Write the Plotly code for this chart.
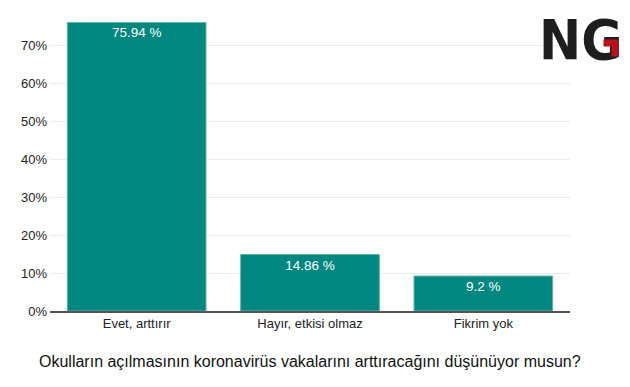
import plotly.graph_objects as go

categories = ["Evet, arttırır", "Hayır, etkisi olmaz", "Fikrim yok"]
values = [75.94, 14.86, 9.2]
labels = ["75.94 %", "14.86 %", "9.2 %"]
tick_vals = [0, 10, 20, 30, 40, 50, 60, 70]
tick_text = ["0%", "10%", "20%", "30%", "40%", "50%", "60%", "70%"]
title_text = "Okulların açılmasının koronavirüs vakalarını arttıracağını düşünüyor musun?"

fig = go.Figure()
fig.add_trace(go.Bar(
    x=categories, y=values, text=labels,
    textposition="inside", insidetextanchor="end",
    textfont=dict(color="white", size=13.5, family="Arial"),
    marker=dict(color="#00877f", line=dict(color="#5fb3ac", width=1)),
    hoverinfo="skip",
))
# page body has an 8px margin: margins compensate so the plot lands where the reference has it
fig.update_layout(
    width=630, height=387,
    margin=dict(l=42, r=68, t=7, b=84),
    paper_bgcolor="white", plot_bgcolor="white",
    bargap=0.2, showlegend=False,
    font=dict(family="Arial", size=13, color="#222"),
    xaxis=dict(showgrid=False, showline=True, linecolor="#555", linewidth=1.5,
               ticks="", tickfont=dict(size=13, color="#222"), automargin=False),
    yaxis=dict(range=[0, 77.9], tickvals=tick_vals, ticktext=tick_text,
               showgrid=True, gridcolor="#ebebeb", zeroline=False,
               ticks="", tickfont=dict(size=13, color="#222"), automargin=False,
               ticklabelstandoff=2),
    uniformtext=dict(mode="show", minsize=12),
)
fig.add_annotation(text=title_text, xref="paper", yref="paper", x=0.5, y=-0.172,
                   showarrow=False, font=dict(size=16, color="#111", family="Arial"),
                   yanchor="middle")
# Logo
fig.add_annotation(text="<b>NG</b>", xref="paper", yref="paper", x=1.022, y=(311 - 40) / 296,
                   xanchor="center", yanchor="middle", showarrow=False,
                   font=dict(size=56, color="#1e1e1e", family="DejaVu Sans Condensed"))
def px(x, y):
    return (x - 50) / 520, (311 - y) / 296
for (cx, cy, w, h) in [(610.5, 43, 14, 6), (614.5, 50, 6, 12)]:
    ax, ay = px(cx, cy)
    fig.add_annotation(text=" ", xref="paper", yref="paper", x=ax, y=ay,
                       xanchor="center", yanchor="middle", showarrow=False,
                       width=w, height=h, borderpad=0, bgcolor="#b5121b",
                       font=dict(size=1))
fig.write_html("out.html")
